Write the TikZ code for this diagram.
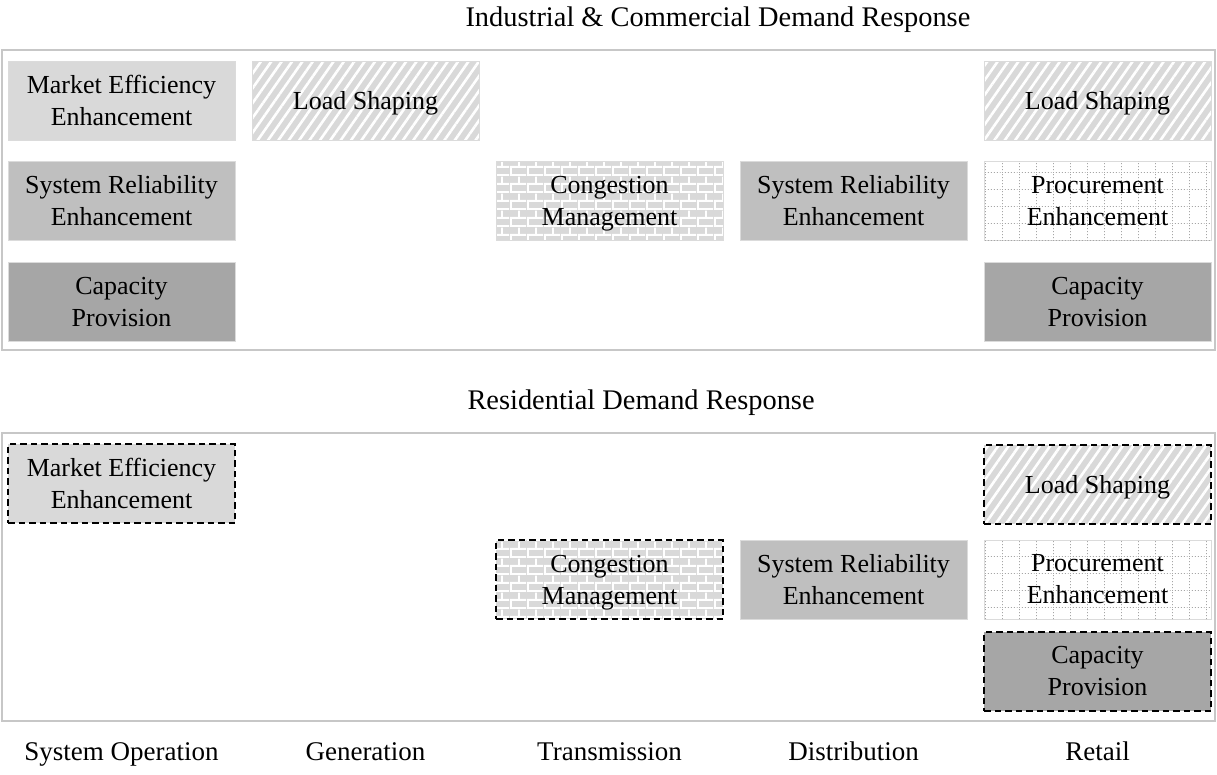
\documentclass[tikz,border=0pt]{standalone}
\usepackage{fontspec}
\setmainfont{Liberation Serif}
\usetikzlibrary{patterns, patterns.meta}

% brick wall and dotted grid fills
\pgfdeclarepattern{
  name=bricks,
  type=uncolored,
  bottom left={\pgfpoint{0pt}{0pt}},
  top right={\pgfpoint{17pt}{16.6pt}},
  tile size={\pgfpoint{17pt}{16.6pt}},
  code={
    \pgfsetdash{}{0pt}
    \pgfsetlinewidth{2pt}
    \pgfpathmoveto{\pgfpoint{0pt}{1pt}}\pgfpathlineto{\pgfpoint{17pt}{1pt}}
    \pgfpathmoveto{\pgfpoint{0pt}{9.3pt}}\pgfpathlineto{\pgfpoint{17pt}{9.3pt}}
    \pgfpathmoveto{\pgfpoint{1pt}{1pt}}\pgfpathlineto{\pgfpoint{1pt}{9.3pt}}
    \pgfpathmoveto{\pgfpoint{9.5pt}{9.3pt}}\pgfpathlineto{\pgfpoint{9.5pt}{16.6pt}}
    \pgfusepath{stroke}
  }
}
\pgfdeclarepattern{
  name=dotgrid,
  type=uncolored,
  bottom left={\pgfpoint{0pt}{0pt}},
  top right={\pgfpoint{16.7pt}{16.7pt}},
  tile size={\pgfpoint{16.7pt}{16.7pt}},
  code={
    \pgfsetlinewidth{0.9pt}
    \pgfsetdash{{1pt}{2pt}}{0pt}
    \pgfpathmoveto{\pgfpoint{0pt}{0.5pt}}\pgfpathlineto{\pgfpoint{16.7pt}{0.5pt}}
    \pgfpathmoveto{\pgfpoint{0.5pt}{0pt}}\pgfpathlineto{\pgfpoint{0.5pt}{16.7pt}}
    \pgfusepath{stroke}
  }
}

\begin{document}
\begin{tikzpicture}[x=1pt, y=-1pt,
  task/.style={minimum width=227pt, minimum height=79pt, inner sep=0pt, align=center, font=\fontsize{26}{32}\selectfont, draw=black!14, line width=0.8pt},
  market/.style={task, fill=black!15},
  reliab/.style={task, fill=black!25},
  capac/.style={task, fill=black!35},
  shaping/.style={task, text depth=0pt, preaction={fill=black!15}, preaction={solid, pattern={Lines[angle=55, distance=8.5pt, line width=2.6pt]}, pattern color=white}},
  congest/.style={task, text depth=0pt, preaction={fill=black!15}, preaction={solid, pattern=bricks, pattern color=white}},
  procure/.style={task, fill=white, postaction={solid, pattern=dotgrid, pattern color=black!35}},
  resid/.style={draw=black, line width=1.6pt, dash pattern=on 6.5pt off 4pt},
  panel/.style={draw=black!22, line width=1.2pt, minimum width=1213pt, inner sep=0pt},
  heading/.style={anchor=west, font=\fontsize{28.4}{32}\selectfont},
  sector/.style={anchor=base, font=\fontsize{27}{32}\selectfont}
]
\useasboundingbox (0,0) rectangle (1217,775);

% Industrial & commercial panel
\node[heading] (ttlIC) at (462,19.5) {Industrial \& Commercial Demand Response};
\node[panel, minimum height=300pt] (pnlIC) at (608.5,200) {};
\node[market] (icMarket) at (121.5,100.5) {Market Efficiency\\Enhancement};
\node[shaping] (icShapeG) at (365.5,100.5) {Load Shaping};
\node[shaping] (icShapeR) at (1097.5,100.5) {Load Shaping};
\node[reliab] (icReliabS) at (121.5,201) {System Reliability\\Enhancement};
\node[congest] (icCongT) at (609.5,201) {Congestion\\Management};
\node[reliab] (icReliabD) at (853.5,201) {System Reliability\\Enhancement};
\node[procure] (icProcR) at (1097.5,201) {Procurement\\Enhancement};
\node[capac] (icCapS) at (121.5,302) {Capacity\\Provision};
\node[capac] (icCapR) at (1097.5,302) {Capacity\\Provision};

% Residential panel
\node[heading] (ttlRes) at (464,402.5) {Residential Demand Response};
\node[panel, minimum height=288pt] (pnlRes) at (608.5,577) {};
\node[market, resid] (resMarket) at (121.5,483.5) {Market Efficiency\\Enhancement};
\node[shaping, resid] (resShapeR) at (1097.5,484.5) {Load Shaping};
\node[congest, resid] (resCongT) at (609.5,579.5) {Congestion\\Management};
\node[reliab] (resReliabD) at (853.5,579.5) {System Reliability\\Enhancement};
\node[procure] (resProcR) at (1097.5,579.5) {Procurement\\Enhancement};
\node[capac, resid] (resCapR) at (1097.5,671.5) {Capacity\\Provision};

% Value chain segments
\node[sector] (labSO) at (121.5,760) {System Operation};
\node[sector] (labG) at (365.5,760) {Generation};
\node[sector] (labT) at (609.5,760) {Transmission};
\node[sector] (labD) at (853.5,760) {Distribution};
\node[sector] (labR) at (1097.5,760) {Retail};

\end{tikzpicture}
\end{document}
